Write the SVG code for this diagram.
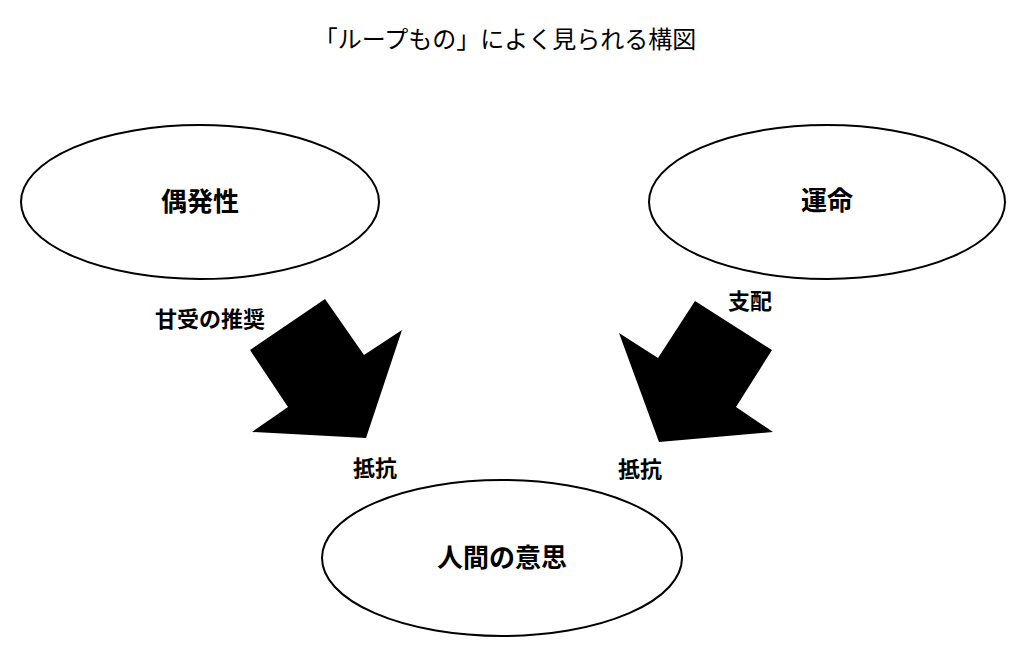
<svg xmlns="http://www.w3.org/2000/svg" width="1024" height="649" viewBox="0 0 1024 649">
<style>
.node ellipse{fill:#fff;stroke:#000;stroke-width:2}
text{font-family:"Noto Sans CJK JP","Noto Sans CJK SC",sans-serif;fill:#000}
.t{font-size:24px;font-weight:400}
.n{font-size:26px;font-weight:700}
.l{font-size:22px;font-weight:700}
.arrow{fill:#000}
</style>
<rect width="1024" height="649" fill="#fff"/>
<text class="t" x="505" y="48" text-anchor="middle">「ループもの」によく見られる構図</text>
<g id="connectors">
<polygon class="arrow" points="325,299 364,355 402,330 366,438 252,432 288,407 250,350"/>
<polygon class="arrow" points="695,301 772,350 736,407 773,432 659,442 619,333 658,358"/>
</g>
<g id="node-gūhatsusei" class="node">
<ellipse cx="200" cy="202" rx="179" ry="77"/>
<text class="n" x="200" y="211" text-anchor="middle">偶発性</text>
</g>
<g id="node-unmei" class="node">
<ellipse cx="827" cy="202" rx="178" ry="77"/>
<text class="n" x="827" y="210" text-anchor="middle">運命</text>
</g>
<g id="node-ningen" class="node">
<ellipse cx="502" cy="558" rx="180" ry="78"/>
<text class="n" x="502" y="567" text-anchor="middle">人間の意思</text>
</g>
<g id="labels">
<text class="l" x="210" y="327" text-anchor="middle">甘受の推奨</text>
<text class="l" x="750" y="309" text-anchor="middle">支配</text>
<text class="l" x="375" y="476" text-anchor="middle">抵抗</text>
<text class="l" x="640" y="477" text-anchor="middle">抵抗</text>
</g>
</svg>
